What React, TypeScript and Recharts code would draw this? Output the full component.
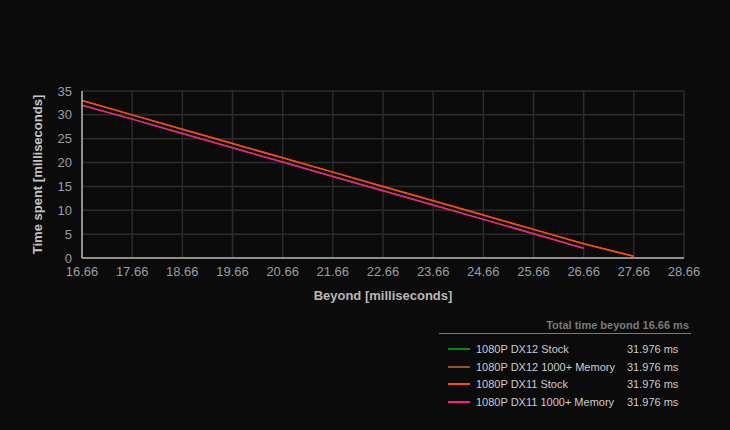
import React from 'react';
import { LineChart, Line, XAxis, YAxis, CartesianGrid, Label } from 'recharts';

// frame time thresholds (ms)
const beyond = [16.66, 17.66, 18.66, 19.66, 20.66, 21.66, 22.66, 23.66, 24.66, 25.66, 26.66, 27.66];
const xTicks = [16.66, 17.66, 18.66, 19.66, 20.66, 21.66, 22.66, 23.66, 24.66, 25.66, 26.66, 27.66, 28.66];
const yTicks = [0, 5, 10, 15, 20, 25, 30, 35];

const dx12Stock = [32.0, 29.1, 26.1, 23.1, 20.1, 17.1, 14.1, 11.1, 8.1, 5.1, 2.05, null];
const dx12Mem = [33.0, 30.0, 27.0, 24.0, 21.0, 18.0, 15.0, 12.0, 9.0, 6.0, 3.0, 0.35];
const dx11Stock = [33.0, 30.0, 27.0, 24.0, 21.0, 18.0, 15.0, 12.0, 9.0, 6.0, 3.0, 0.35];
const dx11Mem = [32.0, 29.1, 26.1, 23.1, 20.1, 17.1, 14.1, 11.1, 8.1, 5.1, 2.05, null];

const series = [
  { key: 'dx12Stock', name: '1080P DX12 Stock', color: '#0a8a0a', total: '31.976 ms' },
  { key: 'dx12Mem', name: '1080P DX12 1000+ Memory', color: '#9a5220', total: '31.976 ms' },
  { key: 'dx11Stock', name: '1080P DX11 Stock', color: '#ff4a10', total: '31.976 ms' },
  { key: 'dx11Mem', name: '1080P DX11 1000+ Memory', color: '#ff1a90', total: '31.976 ms' },
];

const data = beyond.map((x, i) => ({
  x,
  dx12Stock: dx12Stock[i],
  dx12Mem: dx12Mem[i],
  dx11Stock: dx11Stock[i],
  dx11Mem: dx11Mem[i],
}));

const font = '"Liberation Sans", Arial, sans-serif';

function YTitle(props: any) {
  const cy = props.viewBox.y + props.viewBox.height / 2;
  return (
    <text
      x={37}
      y={cy}
      transform={`rotate(-90 37 ${cy})`}
      textAnchor="middle"
      dominantBaseline="central"
      fill="#c4c4c4"
      fontWeight="bold"
      fontSize={13}
      fontFamily={font}
    >
      Time spent [milliseconds]
    </text>
  );
}

export default function App() {
  return (
    <div style={{ position: 'relative', width: 730, height: 430, background: '#0b0b0b', fontFamily: font }}>
      <style>{`body{margin:0;background:#0b0b0b}`}</style>
      <LineChart width={730} height={430} data={data} margin={{ top: 91, right: 46, bottom: 122, left: 0 }}>
        <CartesianGrid stroke="#2c2c2c" strokeWidth={1.5} ticks={xTicks} />
        <XAxis
          dataKey="x"
          type="number"
          domain={[16.66, 28.66]}
          ticks={xTicks}
          tickFormatter={(v: number) => v.toFixed(2)}
          height={50}
          tickSize={0}
          tickMargin={9}
          stroke="#b4b4b4"
          strokeWidth={1.5}
          tick={{ fill: '#9a9ea4', fontSize: 13, fontFamily: font }}
        >
          <Label
            value="Beyond [milliseconds]"
            position="insideBottom"
            offset={8}
            fill="#b8b8b8"
            fontWeight="bold"
            fontSize={13}
            fontFamily={font}
          />
        </XAxis>
        <YAxis
          domain={[0, 35]}
          ticks={yTicks}
          width={82}
          tickSize={0}
          tickMargin={10}
          stroke="#b4b4b4"
          strokeWidth={1.5}
          tick={{ fill: '#9a9ea4', fontSize: 13, fontFamily: font }}
        >
          <Label content={<YTitle />} />
        </YAxis>
        {series.map((s) => (
          <Line
            key={s.key}
            type="linear"
            dataKey={s.key}
            name={s.name}
            stroke={s.color}
            strokeWidth={1.5}
            dot={false}
            isAnimationActive={false}
          />
        ))}
      </LineChart>
      <div style={{ position: 'absolute', left: 439, top: 318, width: 252 }}>
        <div
          style={{
            textAlign: 'right',
            fontSize: 11,
            fontWeight: 'bold',
            color: '#7a7a7a',
            paddingRight: 2,
            borderBottom: '1px solid #7a7a7a',
            lineHeight: '15px',
          }}
        >
          Total time beyond 16.66 ms
        </div>
        {series.map((s, i) => (
          <div key={s.key} style={{ position: 'absolute', top: 24 + i * 17.7, left: 0, width: 252, height: 14, fontSize: 11, color: '#cccccc' }}>
            <div style={{ position: 'absolute', left: 9, top: 6, width: 22, height: 2, background: s.color }} />
            <div style={{ position: 'absolute', left: 37, top: 0, lineHeight: '14px', whiteSpace: 'nowrap' }}>{s.name}</div>
            <div style={{ position: 'absolute', left: 188, top: 0, lineHeight: '14px', whiteSpace: 'nowrap' }}>{s.total}</div>
          </div>
        ))}
      </div>
    </div>
  );
}
